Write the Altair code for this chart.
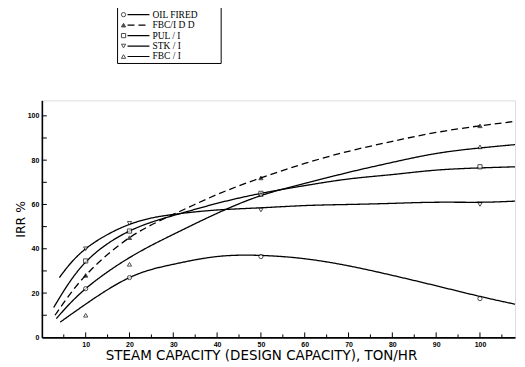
import altair as alt
import pandas as pd

# ---- data ----
series = ["OIL FIRED", "FBC/I  D D", "PUL / I", "STK / I", "FBC / I"]

# smooth fitted curves
curve_x = {
    "OIL FIRED":  [4.2, 10, 20, 30, 40, 50, 60, 70, 80, 90, 100, 108],
    "FBC/I  D D": [3.0, 10, 20, 30, 40, 50, 60, 70, 80, 90, 100, 108],
    "PUL / I":    [2.7, 10, 20, 30, 40, 50, 60, 70, 80, 90, 100, 108],
    "STK / I":    [4.0, 10, 20, 30, 40, 50, 60, 70, 80, 90, 100, 108],
    "FBC / I":    [3.3, 10, 20, 30, 40, 50, 60, 70, 80, 90, 100, 108],
}
curve_y = {
    "OIL FIRED":  [6.9, 15, 27, 33, 36.5, 37, 35.5, 32.3, 28, 23.3, 18.5, 15],
    "FBC/I  D D": [10, 28, 45, 55.5, 64.5, 72, 78.5, 84, 88.5, 92.5, 95.5, 97.5],
    "PUL / I":    [13.5, 34, 48, 55, 60.5, 65, 68.5, 71.5, 73.5, 75.5, 76.5, 77],
    "STK / I":    [27, 40, 51, 55.5, 57.5, 58.5, 59.5, 60, 60.5, 61, 61, 61.5],
    "FBC / I":    [8.5, 22, 36, 46.5, 56, 64, 69.5, 74.5, 79, 83, 85.5, 87],
}

# plotted data points
pts_x = {
    "OIL FIRED":  [10, 20, 50, 100],
    "FBC/I  D D": [10, 20, 50, 100],
    "PUL / I":    [10, 20, 50, 100],
    "STK / I":    [10, 20, 50, 100],
    "FBC / I":    [10, 20, 50, 100],
}
pts_y = {
    "OIL FIRED":  [22, 27, 36.5, 17.5],
    "FBC/I  D D": [28, 45, 72, 95.5],
    "PUL / I":    [34.5, 48, 65, 77],
    "STK / I":    [40, 51.5, 57.5, 60],
    "FBC / I":    [10, 33, 64.5, 86],
}

x_label_ticks = [10, 20, 30, 40, 50, 60, 70, 80, 90, 100]
x_minor_ticks = [5, 15, 25, 35, 45, 55, 65, 75, 85, 95, 105]
y_label_ticks = [0, 20, 40, 60, 80, 100]
y_minor_ticks = [10, 20, 30, 40, 50, 60, 70, 80, 90, 100]

shapes = ["circle", "triangle-up", "square", "triangle-down", "triangle-up"]
fills = ["white", "black", "white", "white", "white"]
dashes = [[1, 0], [7, 4], [1, 0], [1, 0], [1, 0]]

# ---- tables ----
curves = pd.DataFrame(
    [{"series": s, "x": x, "y": y, "o": i}
     for s in series for i, (x, y) in enumerate(zip(curve_x[s], curve_y[s]))]
)
points = pd.DataFrame(
    [{"series": s, "x": x, "y": y} for s in series for x, y in zip(pts_x[s], pts_y[s])]
)
legend_df = pd.DataFrame({"series": series, "row": list(range(len(series)))})
legend_df["py"] = -86 + 10.5 * legend_df["row"]

W, H = 475, 238
xs = alt.Scale(domain=[0, 108], nice=False, zero=False)
ys = alt.Scale(domain=[0, 107], nice=False)

dash_scale = alt.Scale(domain=series, range=dashes)
shape_scale = alt.Scale(domain=series, range=shapes)
fill_scale = alt.Scale(domain=series, range=fills)

lines = alt.Chart(curves).mark_line(
    interpolate="natural", color="black", strokeWidth=1.3
).encode(
    x=alt.X("x:Q", scale=xs, title="STEAM CAPACITY (DESIGN CAPACITY), TON/HR",
            axis=alt.Axis(values=x_label_ticks, tickSize=0, grid=False, domainColor="black",
                          domainWidth=1.6, labelFontSize=7, labelFontWeight="bold",
                          labelColor="black", labelPadding=3, titleFontSize=13.5,
                          titleFont="DejaVu Sans", titleFontWeight="normal",
                          titleColor="black", titlePadding=1, labelFont="Liberation Sans",
                          titleX=220, titleAlign="center")),
    y=alt.Y("y:Q", scale=ys, title="IRR %",
            axis=alt.Axis(values=y_label_ticks, tickSize=0, grid=False, domainColor="black",
                          domainWidth=1.6, labelFontSize=7, labelFontWeight="bold",
                          labelColor="black", labelPadding=3, titleFontSize=12.5,
                          titleFont="DejaVu Sans", titleFontWeight="normal",
                          titleColor="black", titlePadding=0, labelFont="Liberation Sans")),
    detail="series:N",
    order="o:Q",
    strokeDash=alt.StrokeDash("series:N", scale=dash_scale, legend=None),
)

marks = alt.Chart(points).mark_point(filled=True, stroke="black", strokeWidth=1, size=18).encode(
    x=alt.X("x:Q", scale=xs),
    y=alt.Y("y:Q", scale=ys),
    shape=alt.Shape("series:N", scale=shape_scale, legend=None),
    fill=alt.Fill("series:N", scale=fill_scale, legend=None),
)

xt_major = alt.Chart(pd.DataFrame({"t": x_label_ticks})).mark_rule(color="black", strokeWidth=1).encode(
    x=alt.X("t:Q", scale=xs), y=alt.value(H), y2=alt.value(H - 5))
xt_minor = alt.Chart(pd.DataFrame({"t": x_minor_ticks})).mark_rule(color="black", strokeWidth=1).encode(
    x=alt.X("t:Q", scale=xs), y=alt.value(H), y2=alt.value(H - 3))
yt = alt.Chart(pd.DataFrame({"t": y_minor_ticks})).mark_rule(color="black", strokeWidth=1).encode(
    y=alt.Y("t:Q", scale=ys), x=alt.value(0), x2=alt.value(5))

# ---- hand-drawn legend box (above plot) ----
box = alt.Chart(pd.DataFrame({"a": [0]})).mark_rect(fill="white", stroke="black", strokeWidth=1).encode(
    x=alt.value(76), x2=alt.value(180), y=alt.value(-97), y2=alt.value(-37))
leg_lines = alt.Chart(legend_df).mark_rule(color="black", strokeWidth=1.2).encode(
    x=alt.value(86), x2=alt.value(108),
    y=alt.Y("py:Q", scale=None),
    strokeDash=alt.StrokeDash("series:N", scale=dash_scale, legend=None),
)
leg_pts = alt.Chart(legend_df).mark_point(filled=True, stroke="black", strokeWidth=1, size=18).encode(
    x=alt.value(82),
    y=alt.Y("py:Q", scale=None),
    shape=alt.Shape("series:N", scale=shape_scale, legend=None),
    fill=alt.Fill("series:N", scale=fill_scale, legend=None),
)
leg_text = alt.Chart(legend_df).mark_text(
    align="left", baseline="middle", font="Liberation Serif", fontSize=9.5, color="black"
).encode(
    x=alt.value(111),
    y=alt.Y("py:Q", scale=None),
    text="series:N",
)

chart = alt.layer(
    box, leg_lines, leg_pts, leg_text, lines, marks, xt_major, xt_minor, yt
).properties(
    width=W, height=H,
    autosize=alt.AutoSizeParams(type="none"),
    padding={"left": 34, "top": 92, "right": 2, "bottom": 24},
).configure_view(stroke=None).configure(background="white")

chart.save("out.html", embed_options={"renderer": "svg", "actions": False})
